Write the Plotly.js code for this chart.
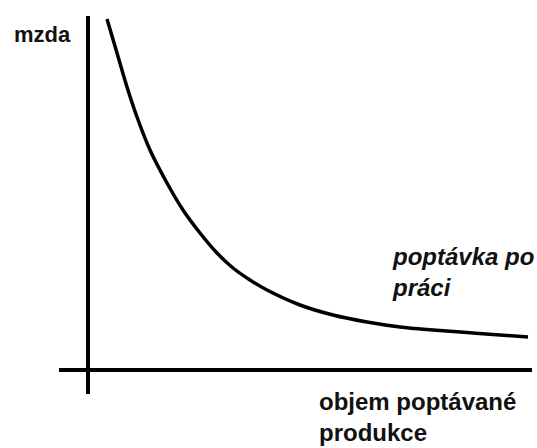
<!DOCTYPE html>
<html>
<head>
<meta charset="utf-8">
<script src="https://cdn.plot.ly/plotly-3.0.1.min.js"></script>
<style>
html,body{margin:0;padding:0;background:#fff;}
#chart{width:537px;height:448px;}
</style>
</head>
<body>
<div id="chart"></div>
<script>
// Demand-for-labour curve (quantity vs. wage)
var quantity = [19, 29, 39, 49, 62, 79, 95, 112, 129, 145, 162, 179, 212, 245, 279, 312, 345, 379, 412, 440];
var wage     = [351, 317, 283, 253, 220, 187, 160, 137, 117, 102, 90, 80, 65, 55, 48, 43, 40, 37.5, 35, 33];

var yLabel = "mzda";
var xLabel = "objem poptávané<br>produkce";
var curveLabel = "<i>poptávka po<br>práci</i>";

var baseFont = {family: "Liberation Sans, Arial, sans-serif", size: 24, color: "#111", weight: "bold"};

var trace = {
  x: quantity, y: wage, type: "scatter", mode: "lines",
  line: {color: "#000", width: 3.5, shape: "spline", smoothing: 1},
  hoverinfo: "skip"
};

var layout = {
  width: 537, height: 448,
  margin: {l: 0, r: 0, t: 0, b: 0},
  paper_bgcolor: "#fff", plot_bgcolor: "#fff",
  showlegend: false,
  xaxis: {range: [-88, 449], visible: false, fixedrange: true},
  yaxis: {range: [-78, 370], visible: false, fixedrange: true},
  shapes: [
    {type: "line", xref: "x", yref: "y", x0: -29, x1: 444, y0: 0, y1: 0, line: {color: "#000", width: 4}},
    {type: "line", xref: "x", yref: "y", x0: 0, x1: 0, y0: -24, y1: 354, line: {color: "#000", width: 4}}
  ],
  annotations: [
    {text: yLabel, x: -76, y: 350, xref: "x", yref: "y", xanchor: "left", yanchor: "top", showarrow: false,
     font: Object.assign({}, baseFont, {size: 22}), align: "left"},
    {text: curveLabel, x: 302, y: 129, xref: "x", yref: "y", xanchor: "left", yanchor: "top", showarrow: false,
     font: baseFont, align: "left"},
    {text: xLabel, x: 229, y: -16, xref: "x", yref: "y", xanchor: "left", yanchor: "top", showarrow: false,
     font: baseFont, align: "left"}
  ]
};

Plotly.newPlot("chart", [trace], layout, {staticPlot: true, displayModeBar: false});
</script>
</body>
</html>
